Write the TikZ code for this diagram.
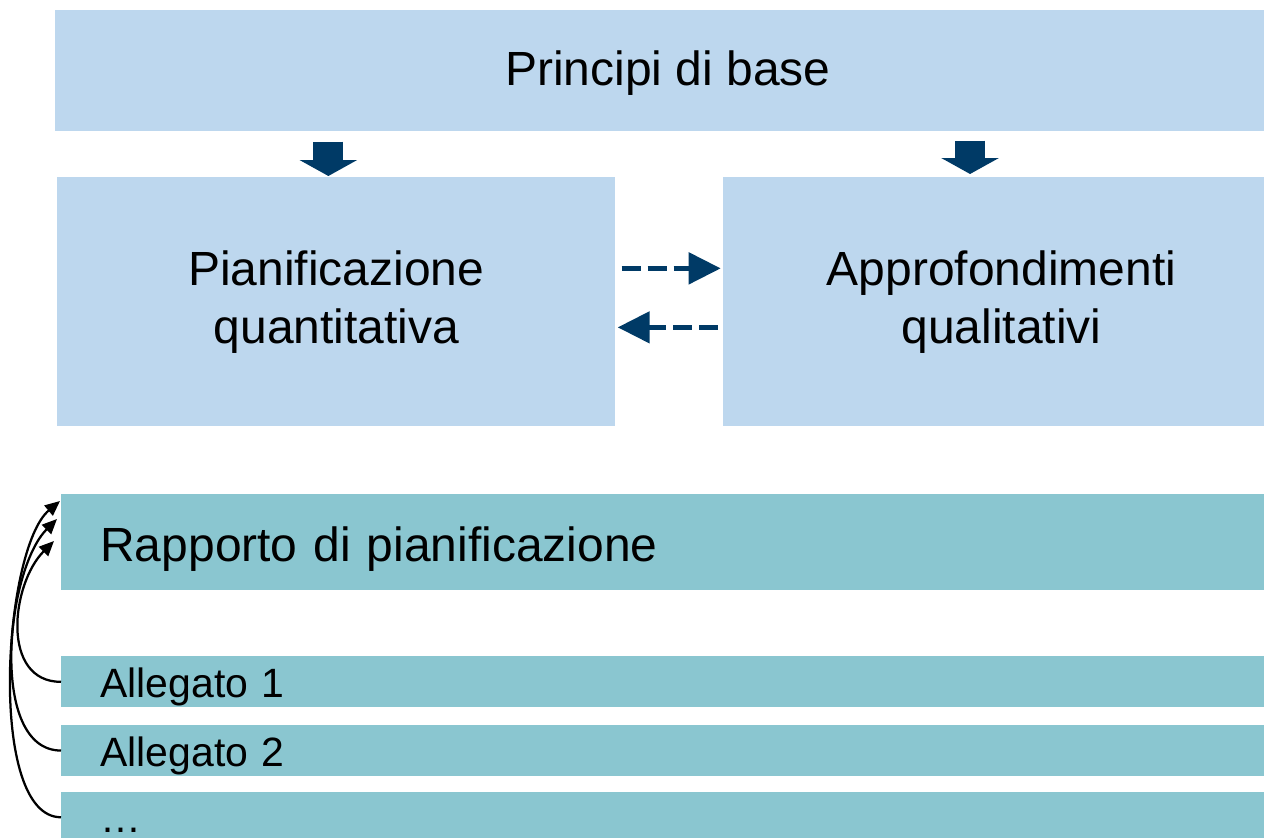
\documentclass[tikz,border=0pt]{standalone}
\usepackage{fontspec}
\setmainfont{Liberation Sans}
\usetikzlibrary{arrows.meta, positioning, calc}
\definecolor{planblue}{HTML}{BDD7EE}
\definecolor{reportteal}{HTML}{8AC6D0}
\definecolor{darknavy}{HTML}{003A66}

\begin{document}
\begin{tikzpicture}[
        x=0.2mm, y=0.2mm,
        box/.style={rectangle, fill=planblue, inner sep=0pt, align=center,
                    font=\fontsize{27.3}{33}\selectfont},
        doc/.style={rectangle, fill=reportteal, inner xsep=7.8mm, inner ysep=0pt,
                    text width=225mm, align=left, minimum height=10.2mm,
                    text height=7.6mm, text depth=1.4mm, font=\fontsize{23.3}{28}\selectfont},
        blockarr/.style={-{Triangle[length=3.2mm, width=11.4mm]}, line width=6mm, darknavy},
        dasharr/.style={-{Triangle[length=6.4mm, width=6.2mm]}, line width=1mm, darknavy,
                        dash pattern=on 3.8mm off 1.4mm},
        refarr/.style={-{Triangle[length=3mm, width=2.6mm]}, line width=0.45mm, black}
      ]
        \useasboundingbox (0,0) rectangle (1264,-838);
        % upper part
        \node[box, minimum width=241.8mm, minimum height=24.2mm, anchor=north west,
              text depth=1.2mm] (principi) at (55,-10) {\hspace*{3.2mm}Principi di base};
        \node[box, minimum width=111.6mm, minimum height=49.8mm, anchor=north west] (plan) at (57,-177) {Pianificazione\\quantitativa};
        \node[box, minimum width=108.4mm, minimum height=49.8mm, right=21.4mm of plan] (approf) {\hspace*{3mm}Approfondimenti\\\hspace*{3mm}qualitativi};
        \draw[blockarr] ($(plan.north |- principi.south)+(-8,-10)$) -- ($(plan.north)+(-8,1)$);
        \draw[blockarr] ($(approf.north |- principi.south)+(-24,-9)$) -- ($(approf.north)+(-24,3)$);
        \draw[dasharr] ($(plan.east)+(6,33.5)$) -- ($(approf.west)+(-2,33.5)$);
        \draw[dasharr] ($(approf.west)+(-5,-25.5)$) -- ($(plan.east)+(2,-25.5)$);
        % report and annexes
        \node[doc, minimum height=19.2mm, text height=9.4mm, text depth=1.8mm,
              font=\fontsize{27.3}{33}\selectfont, anchor=north west] (rapporto) at (61,-494) {Rapporto di pianificazione};
        \node[doc, anchor=north west] (alleg1) at (61,-656) {Allegato 1};
        \node[doc, below=3.4mm of alleg1] (alleg2) {Allegato 2};
        \node[doc, below=3mm of alleg2] (etc) {…};
        \draw[refarr] (alleg1.west) to[out=180, in=225, looseness=1.1] ($(rapporto.north west)+(-7,-47)$);
        \draw[refarr] (alleg2.west) to[out=180, in=225, looseness=0.8] ($(rapporto.north west)+(-4,-25)$);
        \draw[refarr] (etc.west) to[out=180, in=220, looseness=0.6] ($(rapporto.north west)+(-1,-7)$);
      \end{tikzpicture}
\end{document}
